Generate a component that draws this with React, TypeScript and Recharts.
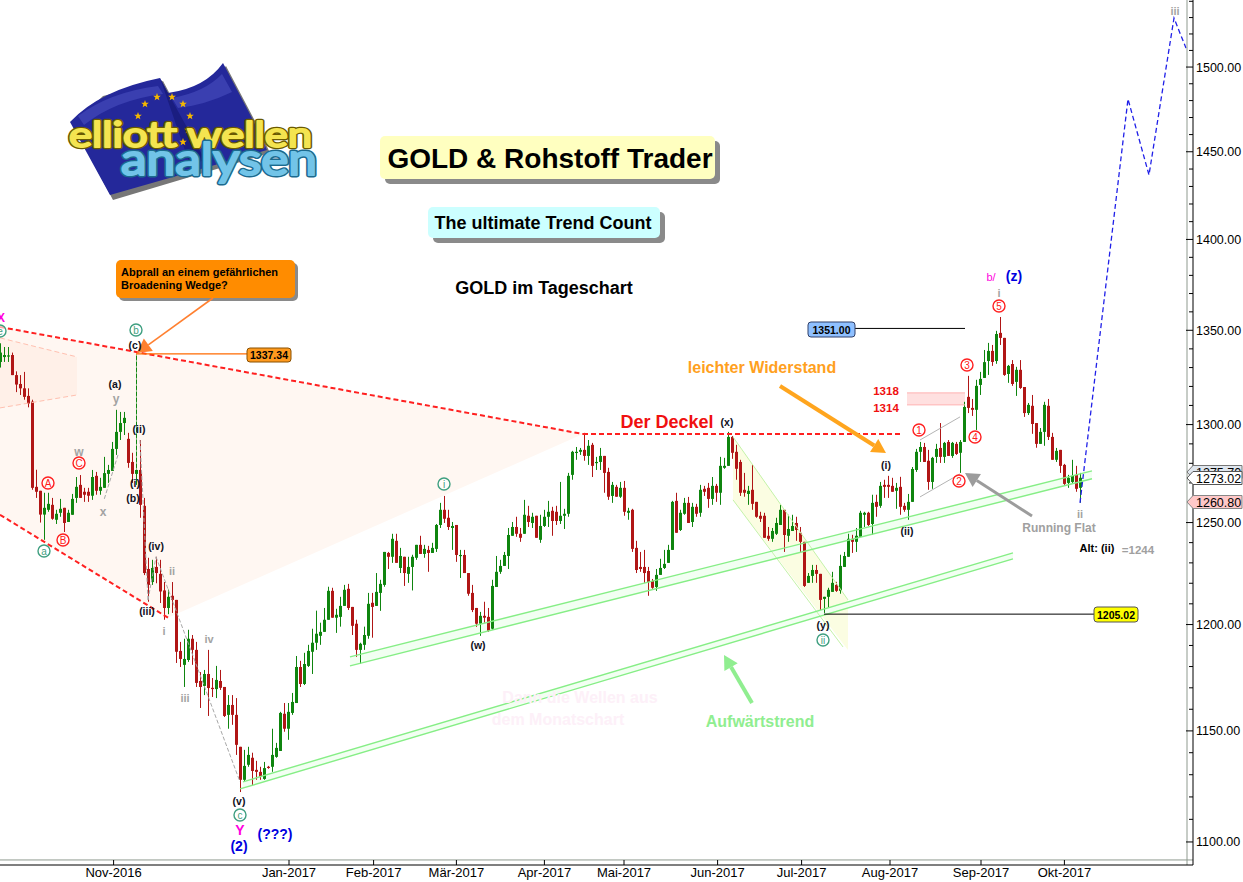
import React from "react";
import { ComposedChart, Bar, Line, Area, XAxis, YAxis, ReferenceLine, ReferenceArea } from "recharts";

// Daily gold candles: [open, high, low, close]
const ohlc: number[][] = [
[1333,1343,1330,1338],[1335.6,1341,1333,1336.7],[1336,1341,1333,1336.5],[1336.7,1338,1326,1326],[1326,1328,1317,1321],[1321.3,1326,1315.5,1319],[1319,1327.7,1313,1314.5],[1315,1319,1309,1311],[1312,1313,1266.5,1267.5],[1268,1276.7,1262.4,1265.5],
[1266,1266,1250,1254],[1254,1265,1241.4,1257.4],[1256.4,1265,1255.4,1259.4],[1258.9,1262.4,1251.4,1251.9],[1251.4,1256.4,1249.3,1254.4],[1254.9,1261.9,1252.9,1256.9],[1257.4,1257.4,1245.3,1249.8],[1250.3,1256.4,1250.3,1254.9],[1253.9,1264.4,1253.9,1261.9],[1262.4,1273,1259.9,1268],
[1269,1274,1262.4,1262.4],[1265.5,1267.5,1260.4,1264],[1265.5,1267.5,1260.4,1263.5],[1263.5,1276.6,1261.4,1273],[1273.6,1275.6,1264,1266],[1266,1272.6,1264,1268],[1267.5,1283.3,1267.5,1275],[1274.6,1279.2,1270,1276.6],[1276.1,1291,1276.1,1287.4],[1287.4,1307.7,1284.3,1296.2],
[1296.2,1306.6,1292,1300.8],[1300.8,1306.6,1294.6,1303.5],[1292.6,1295.7,1277.7,1280.2],[1280.7,1285.4,1270,1274.6],[1274.6,1337.3,1269,1276.6],[1276.6,1292,1252.4,1258.9],[1258.4,1262.4,1224,1225],[1227,1232.5,1211,1219.2],[1220.6,1231.5,1219.2,1227.5],[1228,1233,1220,1225],
[1224.6,1231.5,1210.4,1216],[1216.5,1220.6,1202.3,1208],[1208,1216.9,1205,1213.4],[1213.9,1220.6,1205.6,1211.9],[1211.9,1211.9,1181.7,1187],[1187.4,1191.7,1179.8,1183.6],[1180.8,1193.2,1170.4,1183.6],[1183.1,1197.5,1182.2,1193.2],[1193.2,1195,1180.8,1187.9],[1187.9,1191.7,1170.4,1172.3],
[1173.2,1177.4,1160.6,1170.4],[1170.9,1178.4,1166.6,1176.5],[1176.5,1187.9,1156.9,1169.9],[1170,1174.6,1165.7,1169.4],[1169.4,1180.3,1165.2,1173.7],[1173.2,1178.4,1169,1170],[1170.4,1170.4,1156.4,1156.9],[1157.4,1166.6,1151,1162],[1162,1166.6,1152.8,1157.4],[1157.4,1165.2,1139,1143.6],
[1142.7,1142.7,1122.2,1127.7],[1127.7,1141.3,1126.8,1134],[1134.5,1142.7,1133.6,1139],[1137.7,1140,1125.4,1131.7],[1132.2,1136.3,1127.7,1131.3],[1131.3,1133.6,1127.7,1129],[1128.1,1135.8,1127.7,1133],[1133.6,1134,1132.7,1133.1],[1133.6,1151,1131.3,1139],[1138.1,1144.5,1137.7,1142.2],
[1140.8,1158.8,1140.8,1158.3],[1157.9,1162.9,1149.6,1151],[1151,1162.9,1145.9,1158.8],[1158.3,1167.6,1157.4,1163.4],[1162.9,1185,1162.9,1179.8],[1179.8,1182.7,1170.4,1171.8],[1171.8,1186.5,1171.3,1181.2],[1180.3,1190.3,1179.8,1187.4],[1187,1198,1176.5,1191.3],[1191.3,1206.7,1187.9,1195.6],
[1194.6,1200.9,1190.3,1196.5],[1196.5,1208,1196.5,1202.3],[1202.3,1218.3,1202.3,1216.3],[1216.3,1217.8,1203.3,1203.3],[1203.3,1207.6,1196,1204.7],[1203.7,1213.4,1199,1209],[1209,1219.2,1209,1216.8],[1217.3,1219.7,1207,1208],[1208.5,1208.5,1195,1199.4],[1200.4,1202.3,1184.6,1187.9],
[1187.9,1191.3,1181.2,1190.8],[1190.3,1199,1187.9,1195],[1194.6,1215.3,1193.2,1210],[1210.5,1215.3,1193.7,1208.5],[1209,1225,1209,1215.8],[1215.3,1221.7,1206.6,1219.7],[1219.2,1235.4,1218.3,1235.4],[1234.9,1235.4,1227,1233],[1233,1244.4,1230,1241.9],[1240.9,1244.4,1230,1230],
[1227.5,1237.4,1225,1233.4],[1233,1233,1218.7,1225],[1224.6,1233,1220.2,1228],[1228,1234,1216.5,1233],[1232.5,1238.9,1231.5,1238.9],[1238.9,1243.4,1234.4,1234.4],[1234.4,1238.9,1232.5,1236.9],[1236.4,1238.4,1225.6,1234.9],[1234.9,1239.9,1234.9,1237.4],[1236.9,1249.3,1235.4,1248.8],
[1248.8,1259.9,1247.3,1256.4],[1256.4,1263.4,1249.8,1251.9],[1252.4,1256.4,1246.3,1247.8],[1247.3,1250.3,1236.4,1248.3],[1248.8,1248.8,1230.5,1233.9],[1233.4,1236.4,1222.6,1233.9],[1233.9,1236.4,1225,1225],[1225,1225,1213.9,1214.9],[1215.3,1219.2,1206,1207],[1208,1208,1198.9,1200.4],
[1200.4,1206.1,1194.6,1204.2],[1204.2,1211,1200.9,1203.3],[1203.7,1208,1196.5,1197],[1198,1221.7,1197.5,1218.7],[1218.2,1233.4,1218.2,1225.6],[1225.6,1231.5,1224.6,1228.5],[1228.5,1235.4,1228.5,1233.9],[1233.4,1247.3,1227,1243.8],[1243.4,1250.3,1243.4,1247.8],[1247.8,1252.9,1242.9,1244.4],
[1244.4,1247.3,1240.4,1242.4],[1244.4,1261.4,1244.4,1253.9],[1253.4,1258.4,1247.8,1250.3],[1249.8,1254.9,1247.3,1252.9],[1253.4,1253.4,1242.4,1242.4],[1241.4,1253.9,1239.9,1248.3],[1248.3,1256.4,1247.8,1252.9],[1252.9,1260.9,1247.8,1255.4],[1255.9,1257.9,1243.4,1250.8],[1255.4,1258.4,1248.8,1250.8],
[1250.8,1270.5,1249.3,1253.4],[1253.4,1256.9,1246.8,1254.4],[1254.4,1275.1,1252.9,1273.6],[1274.1,1286.4,1271.6,1285.9],[1285.4,1288.4,1281.8,1285.9],[1285.9,1287.9,1284.3,1286.9],[1286.9,1295.7,1281.3,1283.8],[1283.8,1292,1279.2,1289],[1289.5,1290.5,1273,1278.7],[1280.2,1283.3,1276.6,1280.7],
[1280.7,1287.9,1276.6,1283.8],[1283.8,1283.8,1265,1275.1],[1275.6,1277.7,1261.4,1263],[1263.4,1270.5,1259.9,1269],[1268,1269,1263,1263],[1263,1270.5,1262.4,1267.5],[1267.5,1271,1253.4,1255.4],[1254.9,1257.4,1251.4,1255.9],[1256.4,1256.9,1235.4,1236.9],[1237.4,1240.9,1225,1226.5],
[1228,1235.4,1225.6,1227],[1228,1236.4,1220.2,1225],[1226,1228,1213.9,1220.6],[1221.1,1222.1,1217.3,1217.8],[1218.2,1227,1216.3,1224.1],[1224.1,1232,1224.1,1227.5],[1227.5,1236.4,1227,1229.5],[1230,1238.9,1230,1236.4],[1236.4,1260.9,1236.4,1260.4],[1260.9,1265,1244.9,1244.9],
[1246.3,1256.4,1245.8,1254.9],[1254.4,1262.4,1253.9,1259.9],[1259.9,1262.9,1249.8,1249.8],[1250.3,1259.9,1247.8,1257.9],[1257.9,1259.4,1252.9,1254.4],[1254.9,1269,1252.9,1266.5],[1267,1268.5,1263.4,1265.5],[1267.5,1270,1257.4,1261.9],[1261.9,1273,1258.9,1268.5],[1268.5,1269.5,1260.4,1265],
[1265,1283.3,1258.9,1278.7],[1277.7,1282.8,1277.2,1278.7],[1278.7,1296.2,1278.7,1293.6],[1293.6,1294.1,1282.3,1285.4],[1285.9,1289.5,1271.6,1277.2],[1280.7,1281.8,1263.4,1265],[1266.5,1275.1,1263,1265],[1264.4,1268.5,1258.9,1266],[1266.5,1279.2,1256.4,1259.4],[1260.4,1260.4,1252.4,1252.9],
[1253.4,1255.4,1250.3,1251.9],[1253.4,1254.9,1242.4,1242.4],[1243.4,1247.8,1240.9,1241.9],[1241.9,1247.3,1240.4,1245.8],[1244.4,1252.4,1243.8,1249.8],[1248.8,1258.9,1248.8,1256.4],[1256.4,1256.4,1235.4,1243.8],[1243.4,1253.9,1240.4,1246.8],[1245.8,1253.9,1245.8,1248.3],[1249.8,1252.9,1240.9,1246.3],
[1244.9,1247.8,1235.4,1240.4],[1240.4,1240.4,1218.2,1218.7],[1220.2,1225,1220.2,1223.6],[1223.6,1229,1220.2,1226.5],[1226.5,1229,1220.2,1224.6],[1224.6,1224.6,1207,1211.9],[1212.4,1213.4,1205.6,1213.4],[1213.4,1217.8,1208,1216.8],[1215.8,1225.6,1215.8,1220.2],[1219.2,1220.7,1215.8,1216.3],
[1216.3,1234,1214.9,1228.5],[1228,1235.4,1228,1233.4],[1233,1244.4,1233,1241.9],[1241.9,1243.9,1234.9,1240.4],[1240.4,1247.3,1235.4,1243.4],[1242.9,1255.9,1242.9,1254.9],[1253.9,1255.4,1247.8,1254.9],[1254.9,1255.4,1248.3,1248.8],[1249.3,1264,1243.9,1259.9],[1260.4,1264,1252.9,1257.9],
[1258.4,1270.5,1257.4,1268.5],[1269,1271.6,1262.4,1268],[1269,1273.6,1262.4,1268],[1268.5,1272.6,1265.5,1265.5],[1266,1270,1256.9,1267.5],[1268,1273.1,1253.9,1257.9],[1258.4,1259.9,1255.4,1256.4],[1256.4,1264.4,1251.4,1260.4],[1260.4,1278.1,1260.4,1277.1],[1276.6,1287.4,1275.6,1285.9],
[1285.9,1291,1280.7,1288.4],[1288.4,1290.5,1280.7,1280.7],[1281.3,1286.9,1266.5,1270.5],[1270.5,1283.3,1267,1282.8],[1283.3,1290,1280.2,1287.4],[1287.9,1300.8,1280.2,1283.3],[1283.3,1291,1280.2,1290.5],[1291,1292,1283.8,1283.8],[1283.8,1291,1282.8,1290.5],[1290,1291,1284.3,1284.8],
[1285.4,1292,1275.1,1291],[1291,1311.9,1291,1309.2],[1314.5,1325.6,1306,1308.7],[1308.7,1313.4,1304.5,1307.7],[1307.7,1323.5,1297.2,1320.3],[1320.8,1327.7,1315.5,1324],[1324.5,1339.4,1324.5,1332.9],[1333.5,1343.2,1326.1,1338.9],[1338.9,1342.1,1330.9,1333],[1333.5,1349.7,1332,1348],
[1348.6,1357.2,1342.1,1345.9],[1345.9,1345.9,1325.6,1326.1],[1326.6,1331.4,1321.9,1330.9],[1331.9,1334,1320.3,1321.3],[1322.4,1330.4,1315,1328.8],[1328.8,1334,1318.7,1319.2],[1319.7,1319.7,1304,1306],[1306,1311.3,1305,1310.3],[1309.8,1315.5,1295.2,1300.3],[1300.8,1300.8,1288,1290],
[1290,1298.2,1290,1296.2],[1296.2,1311.9,1289,1310.3],[1309.8,1313.4,1292,1293.6],[1293.6,1295.7,1281.8,1281.8],[1281.8,1287.9,1280.7,1286.4],[1286.9,1286.9,1275.1,1278.7],[1279.2,1279.7,1269,1269.5],[1270,1274.1,1267.5,1272.6],[1270.5,1281.8,1270,1273.6],[1274.1,1278.7,1265.5,1267],
[1267.5,1275.1,1260,1272.6],
];
const candles = ohlc.map(([o, h, l, c], i) => ({ i, o, h, l, c, range: [l, h] }));

const monthLabels = ["Nov-2016", "Jan-2017", "Feb-2017", "Mär-2017", "Apr-2017", "Mai-2017", "Jun-2017", "Jul-2017", "Aug-2017", "Sep-2017", "Okt-2017"];
const monthBars = [28.4, 72.25, 93.4, 114.1, 136.1, 156, 179.4, 200.4, 222.5, 245.25, 266.1];
const priceTicks = Array.from({ length: 45 }, (_, k) => 1100 + k * 10);

// Elliott-wave forecast (bar number, price)
const forecast = [
  { i: 270, price: 1259.9 }, { i: 282, price: 1480.9 }, { i: 287.25, price: 1436.6 },
  { i: 293.5, price: 1529.7 }, { i: 296.5, price: 1511.4 },
];
const wedgeFill = [{ i: 0, band: [1253.9, 1351.8] }, { i: 42, band: [1203.3, 1335.2] }, { i: 145.75, band: [1295.1, 1295.2] }];
const innerWedgeFill = [{ i: 0, band: [1308.7, 1345.9] }, { i: 19.25, band: [1315.5, 1335.7] }];
const downChannelFill = [{ i: 183.25, band: [1261.4, 1293.6] }, { i: 212, band: [1187.9, 1211.9] }];
const midChannelFill = [{ i: 87.5, band: [1180.3, 1184.6] }, { i: 273, band: [1272.1, 1276.1] }];
const lowChannelFill = [{ i: 60.75, band: [1123.9, 1126.8] }, { i: 253.25, band: [1232, 1234.9] }];

type Seg = [number, number, number, number];
const redDashed: Seg[] = [[0, 1351.8, 145.75, 1295.1], [145.75, 1295.1, 225.75, 1295.1], [0, 1253.9, 42, 1203.3]];
const pinkDashed: Seg[] = [[0, 1345.9, 19.25, 1335.7], [0, 1308.7, 19.25, 1315.5]];
const greenChannel: Seg[] = [
  [60.75, 1126.8, 253.25, 1234.9], [60, 1123.6, 253.25, 1232],
  [87.5, 1184.6, 273, 1276.1], [87.5, 1180.3, 273, 1272.1],
];
const paleChannel: Seg[] = [[183.25, 1293.6, 212, 1211.9], [183.25, 1261.4, 210.75, 1189.3]];
const greyDashed: Seg[] = [[29.5, 1284.3, 26, 1261.4], [35, 1292, 37, 1211.9], [37, 1211.9, 39, 1233], [39, 1233, 60, 1126.8]];
const greyThin: Seg[] = [[230, 1262.9, 240, 1274.6], [230, 1292, 240, 1304]];
const blackLevels: Seg[] = [[213.75, 1351, 241.25, 1351], [206, 1205.02, 273.75, 1205.02]];
const orangeLevel: Seg = [34, 1337.34, 62, 1337.34];
const spikeDash: Seg = [34, 1337.3, 34, 1276.6];

const BLK = "#10101c", GRY = "#a3a3a3", RED = "#ff2020", GRN = "#3f9f80", BLU = "#0000e0", MAG = "#ff00e0";
const waveLabels: [string, number, number, string, number][] = [
  ["X", 1, 318, MAG, 12], ["(c)", 135, 345, BLK, 10.5], ["(a)", 115, 384, BLK, 10.5], ["y", 116, 399, GRY, 12],
  ["(ii)", 139, 429, BLK, 10.5], ["(i)", 135, 483, BLK, 10.5], ["(b)", 133, 498, BLK, 10.5], ["w", 79, 452, GRY, 12], ["x", 103, 512, GRY, 12],
  ["(iv)", 156, 546, BLK, 10.5], ["ii", 172, 571, GRY, 11], ["(iii)", 147, 611, BLK, 10.5], ["i", 164, 631, GRY, 11], ["iv", 209, 639, GRY, 11], ["iii", 185, 698, GRY, 11],
  ["(v)", 239, 801, BLK, 10.5], ["Y", 240, 830, MAG, 14], ["(2)", 239, 846, BLU, 14], ["(???)", 275, 834, BLU, 14],
  ["(w)", 478, 645, BLK, 10.5], ["(x)", 727, 422, BLK, 10.5], ["(i)", 886, 465, BLK, 10.5], ["(ii)", 907, 531, BLK, 10.5], ["(y)", 823, 625, BLK, 10.5],
  ["b/", 991, 277, MAG, 11], ["(z)", 1014, 276, BLU, 14], ["i", 999, 293, GRY, 11], ["ii", 1080, 514, GRY, 11], ["iii", 1175, 11, GRY, 11],
  ["1318", 886, 391, "#f01010", 11.5], ["1314", 886, 408, "#f01010", 11.5],
  ["Der Deckel", 667, 422, "#f01010", 18], ["leichter Widerstand", 762, 367, "#ffa020", 16], ["Aufwärtstrend", 760, 721, "#90ee90", 16],
  ["Running Flat", 1059, 528, "#a0a0a0", 12], ["Alt: (ii)", 1097, 548, "#000000", 11], ["=1244", 1138, 550, "#a0a0a0", 11.5],
];
const circled: [string, number, number, string][] = [
  ["e", 0, 331, GRN], ["b", 136, 330, GRN], ["a", 44, 551, GRN], ["c", 240, 815, GRN], ["i", 444, 484, GRN], ["ii", 823, 640, GRN],
  ["A", 48, 483, RED], ["B", 63, 540, RED], ["C", 79, 463, RED],
  ["1", 919, 430, RED], ["2", 959, 481, RED], ["3", 967, 365, RED], ["4", 975, 437, RED], ["5", 999, 306, RED],
];
const starPoints = [[145, 104], [157, 97], [172, 97], [183, 104], [190, 116], [138, 116], [188, 130], [183, 142]];

const SANS = "'Liberation Sans', Arial, sans-serif";

function Candle(p: any) {
  const { x, y, width, height, payload } = p;
  const { o, h, l, c } = payload;
  const span = Math.log(h / l) || 1;
  const yOf = (v: number) => y + (height * Math.log(h / v)) / span;
  const cx = Math.round(x + width / 2);
  const col = c >= o ? "#0f850f" : "#b01616";
  const top = yOf(Math.max(o, c));
  const bot = yOf(Math.min(o, c));
  return (
    <g>
      <line x1={cx + 0.5} x2={cx + 0.5} y1={y} y2={y + height} stroke={col} strokeWidth={1} />
      <rect x={cx - 1} y={top} width={3} height={Math.max(1.2, bot - top)} fill={col} />
    </g>
  );
}

function PriceTick(p: any) {
  const { x, y, payload } = p;
  const major = payload.value % 50 === 0;
  return (
    <g>
      <line x1={x - (major ? 7 : 4)} x2={x} y1={y} y2={y} stroke="#000" />
      {major && (
        <text x={x + 3} y={y + 4.5} fontFamily={SANS} fontSize={12.5} fill="#000">{payload.value.toFixed(2)}</text>
      )}
    </g>
  );
}

function MonthTick(p: any) {
  const { x, y, payload } = p;
  return (
    <g>
      <line x1={x} x2={x} y1={y - 5} y2={y} stroke="#000" />
      <text x={x} y={y + 11.5} textAnchor="middle" fontFamily={SANS} fontSize={13} fill="#000">
        {monthLabels[monthBars.indexOf(payload.value)]}
      </text>
    </g>
  );
}

function segLine(s: Seg, key: string, stroke: string, width: number, dash?: string) {
  return (
    <ReferenceLine key={key} segment={[{ x: s[0], y: s[1] }, { x: s[2], y: s[3] }]} stroke={stroke} strokeWidth={width} strokeDasharray={dash} ifOverflow="visible" />
  );
}

function Arrow({ x1, y1, x2, y2, color, w, head }: any) {
  const a = Math.atan2(y2 - y1, x2 - x1);
  const bx = x2 - head * Math.cos(a), by = y2 - head * Math.sin(a);
  const n = head * 0.55;
  return (
    <g>
      <line x1={x1} y1={y1} x2={bx} y2={by} stroke={color} strokeWidth={w} />
      <polygon points={`${x2},${y2} ${bx - n * Math.sin(a)},${by + n * Math.cos(a)} ${bx + n * Math.sin(a)},${by - n * Math.cos(a)}`} fill={color} />
    </g>
  );
}

function Box({ x, y, w, h, fill, r = 5, shadow = 5 }: any) {
  return (
    <g>
      <rect x={x + shadow} y={y + shadow} width={w} height={h} rx={r} fill="#8a8a8a" />
      <rect x={x} y={y} width={w} height={h} rx={r} fill={fill} />
    </g>
  );
}

function Tag({ x, y, w, h, fill, stroke, text, size = 12 }: any) {
  return (
    <g>
      <rect x={x} y={y} width={w} height={h} rx={3} fill={fill} stroke={stroke} />
      <text x={x + w / 2} y={y + h / 2 + 4} textAnchor="middle" fontFamily={SANS} fontSize={size} fontWeight={700} fill="#000">{text}</text>
    </g>
  );
}

function PriceFlag({ y, fill, stroke, text }: any) {
  return (
    <g>
      <polygon points={`1187,${y} 1193,${y - 6.5} 1242,${y - 6.5} 1242,${y + 6.5} 1193,${y + 6.5}`} fill={fill} stroke={stroke} />
      <text x={1196} y={y + 4.5} fontFamily={SANS} fontSize={12.5} fill="#000">{text}</text>
    </g>
  );
}

function star(cx: number, cy: number, r: number) {
  return Array.from({ length: 10 }, (_, k) => {
    const rad = k % 2 === 0 ? r : r * 0.42;
    const a = -Math.PI / 2 + (k * Math.PI) / 5;
    return `${cx + rad * Math.cos(a)},${cy + rad * Math.sin(a)}`;
  }).join(" ");
}

function Logo() {
  const font = "Lato, 'DejaVu Sans'";
  return (
    <g>
      <polygon points="73,125 103,96 163,81 171,96 210,83 226,66 256,123 270,153 113,200" fill="#777" />
      <path d="M70,122 Q100,90 160,78 L168,93 Q205,88 223,63 L253,120 L267,150 L110,195 Z" fill="#24289a" />
      <path d="M78,116 Q110,92 158,86 L163,94 Q115,100 84,125 Z M172,98 Q205,92 222,74 L232,92 Q205,105 178,108 Z" fill="#3a3fb0" />
      <path d="M160,78 L168,93 L205,160 L190,165 Z" fill="#1a1d80" />
      {starPoints.map(([x, y], k) => (
        <polygon key={k} points={star(x, y, 4)} fill="#f5b800" />
      ))}
      <g fontFamily={font} fontWeight={400} strokeLinejoin="round">
        <text x={69} y={147} fontSize={34} textLength={243} lengthAdjust="spacingAndGlyphs" fill="#6a5a00" stroke="#6a5a00" strokeWidth={4.5}>elliott wellen</text>
        <text x={69} y={147} fontSize={34} textLength={243} lengthAdjust="spacingAndGlyphs" fill="#f4e450" stroke="#f4e450" strokeWidth={2}>elliott wellen</text>
        <text x={121} y={175} fontSize={44} textLength={196} lengthAdjust="spacingAndGlyphs" fill="#1c6a8e" stroke="#1c6a8e" strokeWidth={5}>analysen</text>
        <text x={121} y={175} fontSize={44} textLength={196} lengthAdjust="spacingAndGlyphs" fill="#72c4e8" stroke="#72c4e8" strokeWidth={2.2}>analysen</text>
      </g>
    </g>
  );
}

export default function App() {
  return (
    <div style={{ position: "absolute", left: 0, top: 0, width: 1243, height: 882, background: "#fff", overflow: "hidden" }}>
      <ComposedChart width={1243} height={882} data={candles} margin={{ top: 0, right: 0, bottom: 0, left: 0 }}>
        <XAxis dataKey="i" type="number" domain={[0, 298.25]} ticks={monthBars} interval={0} height={17} tickSize={0} tickMargin={0} tickLine={false} tick={<MonthTick />} stroke="#000" allowDataOverflow />
        <YAxis orientation="right" scale="log" domain={[1089.9, 1540.8]} ticks={priceTicks} interval={0} width={50} tickSize={0} tickMargin={0} tickLine={false} tick={<PriceTick />} stroke="#000" allowDataOverflow />
        <Area data={wedgeFill} dataKey="band" type="linear" fill="#fff7f2" fillOpacity={1} stroke="none" isAnimationActive={false} dot={false} activeDot={false} />
        <Area data={innerWedgeFill} dataKey="band" type="linear" fill="#fff0e8" fillOpacity={1} stroke="none" isAnimationActive={false} dot={false} activeDot={false} />
        <Area data={downChannelFill} dataKey="band" type="linear" fill="#fbfde2" fillOpacity={1} stroke="none" isAnimationActive={false} dot={false} activeDot={false} />
        <Area data={midChannelFill} dataKey="band" type="linear" fill="#f2fff2" fillOpacity={1} stroke="none" isAnimationActive={false} dot={false} activeDot={false} />
        <Area data={lowChannelFill} dataKey="band" type="linear" fill="#f2fff2" fillOpacity={1} stroke="none" isAnimationActive={false} dot={false} activeDot={false} />
        <ReferenceArea x1={226.75} x2={241.25} y1={1310.3} y2={1316.6} fill="#ffe0e0" fillOpacity={1} stroke="none" ifOverflow="visible" />
        <ReferenceLine segment={[{ x: 226.75, y: 1316.6 }, { x: 241.25, y: 1316.6 }]} stroke="#ffb0b0" ifOverflow="visible" />
        <ReferenceLine segment={[{ x: 226.75, y: 1310.3 }, { x: 241.25, y: 1310.3 }]} stroke="#ffb0b0" ifOverflow="visible" />
        {pinkDashed.map((s, k) => segLine(s, `p${k}`, "#ffc0b0", 1, "5 3"))}
        {paleChannel.map((s, k) => segLine(s, `c${k}`, "#c4f2a8", 1))}
        {greenChannel.map((s, k) => segLine(s, `g${k}`, "#86ee86", 1.4))}
        {greyThin.map((s, k) => segLine(s, `t${k}`, "#b4b4b4", 1))}
        <Bar dataKey="range" barSize={3} shape={<Candle />} isAnimationActive={false} />
        {greyDashed.map((s, k) => segLine(s, `d${k}`, "#a8a8a8", 1, "4 2"))}
        {segLine(spikeDash, "spike", "#fff7f2", 1, "2 4")}
        {redDashed.map((s, k) => segLine(s, `r${k}`, RED, 2, "5 3"))}
        {blackLevels.map((s, k) => segLine(s, `b${k}`, "#000", 1))}
        {segLine(orangeLevel, "ol", "#ff6a00", 1.4)}
        <Line data={forecast} dataKey="price" type="linear" stroke="#2020e8" strokeWidth={1.3} strokeDasharray="5 3" dot={false} activeDot={false} isAnimationActive={false} />
        <ReferenceLine x={296.75} stroke="#8f9a8f" strokeWidth={1} />
        <ReferenceLine y={1092.1} stroke="#8f9a8f" strokeWidth={1} />
      </ComposedChart>

      <svg width={1243} height={882} style={{ position: "absolute", left: 0, top: 0, pointerEvents: "none" }}>
        <text x={580} y={703} textAnchor="middle" fontFamily={SANS} fontWeight={700} fontSize={16} fill="#fdf0f8">Dann die Wellen aus</text>
        <text x={558} y={725} textAnchor="middle" fontFamily={SANS} fontWeight={700} fontSize={16} fill="#fdf0f8">dem Monatschart</text>
        <Logo />
        <Box x={380} y={136} w={335} h={43} fill="#ffffc0" />
        <text x={550} y={168} textAnchor="middle" fontFamily={SANS} fontWeight={700} fontSize={28}>GOLD &amp; Rohstoff Trader</text>
        <Box x={428} y={207} w={232} h={31} fill="#ccffff" />
        <text x={543} y={229} textAnchor="middle" fontFamily={SANS} fontWeight={700} fontSize={18}>The ultimate Trend Count</text>
        <text x={544} y={294} textAnchor="middle" fontFamily={SANS} fontWeight={700} fontSize={18}>GOLD im Tageschart</text>

        <Box x={116} y={260} w={179} h={38} fill="#ff8c00" shadow={3} />
        <text x={121} y={276} fontFamily={SANS} fontWeight={700} fontSize={11}>Abprall an einem gefährlichen</text>
        <text x={121} y={289} fontFamily={SANS} fontWeight={700} fontSize={11}>Broadening Wedge?</text>
        <Arrow x1={213} y1={298} x2={137} y2={353} color="#ff8030" w={1.6} head={14} />
        <Arrow x1={780} y1={386} x2={886} y2={453} color="#ffa51e" w={4} head={14} />
        <Arrow x1={1032} y1={516} x2={965} y2={473} color="#9c9c9c" w={3} head={14} />
        <Arrow x1={752} y1={703} x2={724} y2={655} color="#90ee90" w={4} head={14} />

        <Tag x={247} y={348} w={44} h={14} fill="#ff9a1e" stroke="#8a5000" text="1337.34" size={10.5} />
        <Tag x={808} y={322} w={47} h={15} fill="#8fc0ff" stroke="#30406a" text="1351.00" size={10.5} />
        <Tag x={1094} y={607} w={44} h={15} fill="#ffff00" stroke="#555" text="1205.02" size={10.5} />

        {waveLabels.map(([t, x, y, col, size], k) => (
          <text key={k} x={x} y={y + size * 0.36} textAnchor="middle" fontFamily={SANS} fontWeight={t === "b/" ? 400 : 700} fontSize={size} fill={col}>{t}</text>
        ))}
        {circled.map(([t, x, y, col], k) => (
          <g key={k}>
            <circle cx={x} cy={y} r={6} fill="#fff" fillOpacity={0.6} stroke={col} strokeWidth={1.4} />
            <text x={x} y={y + 3.5} textAnchor="middle" fontFamily={SANS} fontSize={10} fill={col}>{t}</text>
          </g>
        ))}

        <PriceFlag y={472} fill="#dfe6ee" stroke="#777" text="1275.70" />
        <PriceFlag y={478} fill="#ffffff" stroke="#555" text="1273.02" />
        <PriceFlag y={502} fill="#ffc8c8" stroke="#888" text="1260.80" />
      </svg>
    </div>
  );
}
